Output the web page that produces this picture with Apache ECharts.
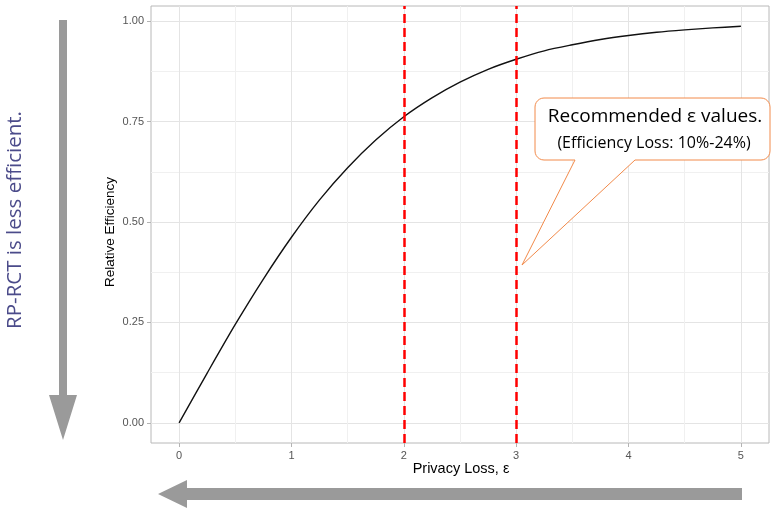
<!DOCTYPE html>
<html>
<head>
<meta charset="utf-8">
<script src="https://cdn.jsdelivr.net/npm/echarts@6/dist/echarts.min.js"></script>
<style>
html,body{margin:0;padding:0;background:#fff;}
#chart{width:772px;height:510px;}
</style>
</head>
<body>
<div id="chart"></div>
<script>
// Privacy loss (epsilon) values and relative efficiency
const epsilon = [0, 0.25, 0.5, 0.75, 1, 1.25, 1.5, 1.75, 2, 2.25, 2.5, 2.75, 3, 3.25, 3.5, 3.75, 4, 4.25, 4.5, 4.75, 5];
const efficiency = [0, 0.124, 0.245, 0.358, 0.462, 0.555, 0.635, 0.704, 0.762, 0.809, 0.848, 0.880, 0.905, 0.926, 0.941, 0.954, 0.964, 0.972, 0.978, 0.983, 0.987];
const recommendedEps = [2, 3];
const xTicks = [0, 1, 2, 3, 4, 5];
const yTicks = [0, 0.25, 0.5, 0.75, 1];
const xGrid = [0, 0.5, 1, 1.5, 2, 2.5, 3, 3.5, 4, 4.5, 5];
const yGrid = [0, 0.125, 0.25, 0.375, 0.5, 0.625, 0.75, 0.875, 1];

const curve = epsilon.map((e, i) => [e, efficiency[i]]);

const chart = echarts.init(document.getElementById('chart'), null, {renderer: 'canvas'});

const MAJ = '#e4e4e4';
const MIN = '#f0f0f0';

function bubblePoints(x0, y0, x1, y1, r, tailL, tailR, tip) {
  const pts = [];
  function arc(cx, cy, a0, a1) {
    for (let k = 0; k <= 6; k++) {
      const a = a0 + (a1 - a0) * k / 6;
      pts.push([cx + r * Math.cos(a), cy + r * Math.sin(a)]);
    }
  }
  arc(x0 + r, y0 + r, Math.PI, Math.PI * 1.5);
  arc(x1 - r, y0 + r, Math.PI * 1.5, Math.PI * 2);
  arc(x1 - r, y1 - r, 0, Math.PI * 0.5);
  pts.push([tailR, y1]);
  pts.push(tip);
  pts.push([tailL, y1]);
  arc(x0 + r, y1 - r, Math.PI * 0.5, Math.PI);
  return pts;
}

const lbl = {color: '#555555', fontSize: 11, fontFamily: 'Liberation Sans'};

const option = {
  backgroundColor: '#ffffff',
  animation: false,
  grid: {
    left: 151, right: 3, top: 6, bottom: 67,
    show: true, borderColor: '#b8b8b8', borderWidth: 1, backgroundColor: 'transparent'
  },
  xAxis: [{
    type: 'value', min: -0.25, max: 5.25, position: 'bottom',
    axisLine: {show: false, onZero: false},
    axisTick: {show: true, customValues: xTicks, length: 4, lineStyle: {color: '#b3b3b3'}},
    axisLabel: Object.assign({customValues: xTicks, margin: 7, formatter: v => String(v)}, lbl),
    splitLine: {show: false}
  }, {
    type: 'value', min: -0.25, max: 5.25, position: 'top',
    axisLine: {show: false, onZero: false},
    axisTick: {show: false, customValues: xGrid},
    axisLabel: {show: false, customValues: xGrid},
    splitLine: {show: true, lineStyle: {color: [MAJ, MIN], width: 1}}
  }],
  yAxis: [{
    type: 'value', min: -0.05, max: 1.0375, position: 'left',
    axisLine: {show: false, onZero: false},
    axisTick: {show: true, customValues: yTicks, length: 4, lineStyle: {color: '#b3b3b3'}},
    axisLabel: Object.assign({customValues: yTicks, margin: 7, formatter: v => v.toFixed(2)}, lbl),
    splitLine: {show: false}
  }, {
    type: 'value', min: -0.05, max: 1.0375, position: 'right',
    axisLine: {show: false, onZero: false},
    axisTick: {show: false, customValues: yGrid},
    axisLabel: {show: false, customValues: yGrid},
    splitLine: {show: true, lineStyle: {color: [MAJ, MIN], width: 1}}
  }],
  series: [{
    type: 'line',
    xAxisIndex: 0, yAxisIndex: 0,
    data: curve,
    smooth: 0.3,
    symbol: 'none',
    lineStyle: {color: '#111111', width: 1.4},
    z: 3,
    markLine: {
      silent: true,
      symbol: ['none', 'none'],
      label: {show: false},
      lineStyle: {color: '#ff0000', width: 2.5, type: [9, 5]},
      data: recommendedEps.map(v => ({xAxis: v}))
    }
  }],
  graphic: [
    {type: 'text', x: 110, y: 232, rotation: Math.PI / 2,
      style: {text: 'Relative Efficiency', fill: '#000', font: '13.5px "Liberation Sans"', align: 'center', verticalAlign: 'middle'}},
    {type: 'text', x: 461, y: 469,
      style: {text: 'Privacy Loss, ε', fill: '#000', font: '14.5px "Liberation Sans"', align: 'center', verticalAlign: 'middle'}},
    {type: 'text', x: 15, y: 220, rotation: Math.PI / 2,
      style: {text: 'RP-RCT is less efficient.', fill: '#4b4b8a', font: '20.5px "Open Sans"', align: 'center', verticalAlign: 'middle'}},
    {type: 'polygon', shape: {points: [[59, 20], [67, 20], [67, 395], [77, 395], [63, 440], [49, 395], [59, 395]]},
      style: {fill: '#9a9a9a'}},
    {type: 'polygon', shape: {points: [[742, 488], [742, 500], [187, 500], [187, 508], [158, 494], [187, 480], [187, 488]]},
      style: {fill: '#9a9a9a'}},
    {type: 'polygon', z: 10,
      shape: {points: bubblePoints(535, 98, 770, 160, 9, 575, 635, [522, 265])},
      style: {fill: '#ffffff', stroke: '#f28a4a', lineWidth: 1}},
    {type: 'text', z: 11, x: 655, y: 117,
      style: {text: 'Recommended ε values.', fill: '#000', font: '19px "Open Sans"', align: 'center', verticalAlign: 'middle'}},
    {type: 'text', z: 11, x: 654, y: 143,
      style: {text: '(Efficiency Loss: 10%-24%)', fill: '#000', font: '16px "Open Sans"', align: 'center', verticalAlign: 'middle'}}
  ]
};
chart.setOption(option);
</script>
</body>
</html>
